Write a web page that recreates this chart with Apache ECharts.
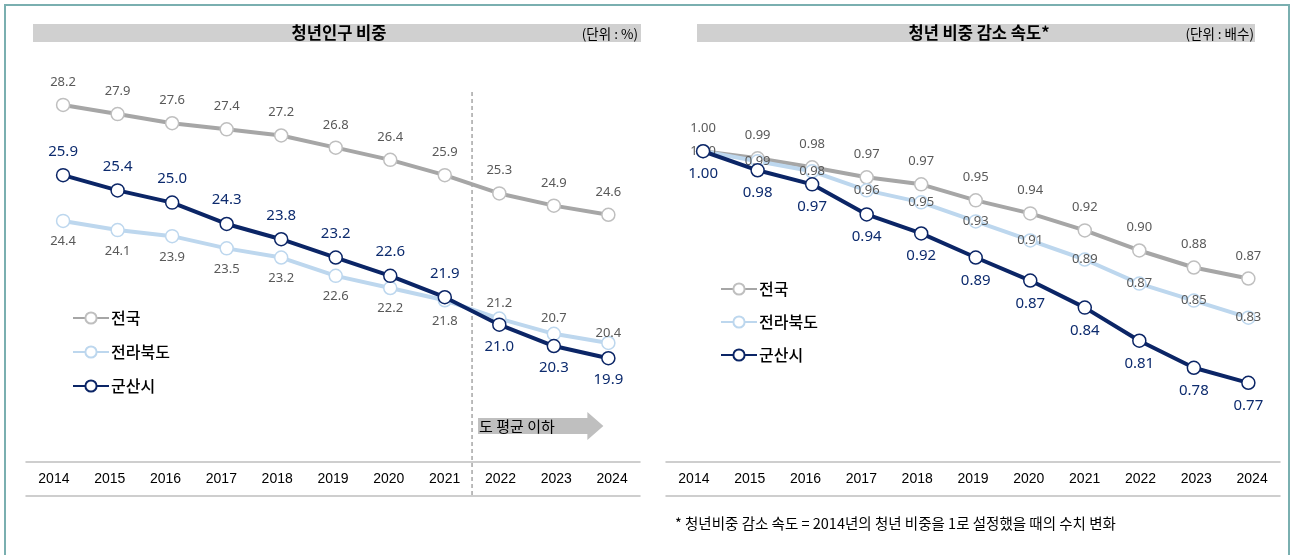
<!DOCTYPE html>
<html><head><meta charset="utf-8">
<script src="https://cdn.jsdelivr.net/npm/echarts@6/dist/echarts.min.js"></script>
<style>html,body{margin:0;padding:0;background:#fff}#c{width:1292px;height:555px}</style>
</head><body><div id="c"></div>
<script>
const years = ['2014','2015','2016','2017','2018','2019','2020','2021','2022','2023','2024'];
const names = ['전국','전라북도','군산시'];
const shareNation  = [28.2,27.9,27.6,27.4,27.2,26.8,26.4,25.9,25.3,24.9,24.6];
const shareJeonbuk = [24.4,24.1,23.9,23.5,23.2,22.6,22.2,21.8,21.2,20.7,20.4];
const shareGunsan  = [25.9,25.4,25.0,24.3,23.8,23.2,22.6,21.9,21.0,20.3,19.9];
// speed values estimated from point positions; labels show them rounded to 2 decimals
const speedNation  = [1.000,0.993,0.984,0.974,0.967,0.951,0.938,0.921,0.901,0.884,0.873];
const speedJeonbuk = [1.000,0.990,0.980,0.961,0.949,0.930,0.911,0.892,0.868,0.851,0.834];
const speedGunsan  = [1.000,0.981,0.967,0.937,0.918,0.894,0.871,0.844,0.811,0.784,0.769];
const leftTitle = '청년인구 비중', leftUnit = '(단위 : %)';
const rightTitle = '청년 비중 감소 속도*', rightUnit = '(단위 : 배수)';
const arrowText = '도 평균 이하';
const footnote = '* 청년비중 감소 속도 = 2014년의 청년 비중을 1로 설정했을 때의 수치 변화';
const belowFromIndex = 8; // 2022 onward: below province average

const KR = '"Noto Sans CJK KR", "Noto Sans", sans-serif';
const NUM = '"Noto Sans", "Noto Sans CJK KR", sans-serif';
const C_GRAY = '#a6a6a6', C_LB = '#bdd7ee', C_NAVY = '#0b2566';
const colors = [C_GRAY, C_LB, C_NAVY];
const mBorder = ['#bfbfbf', '#bdd7ee', '#0b2566'];

const chart = echarts.init(document.getElementById('c'), null, {renderer: 'canvas'});

const grayLbl = {show: true, color: '#595959', fontSize: 13, fontFamily: NUM};
const navyLbl = {show: true, color: '#0d2b6e', fontSize: 15, fontWeight: 'normal', fontFamily: NUM};

function mk(name, vals, k, xi, yi, labelFn, dec, z) {
  return {
    type: 'line', name, xAxisIndex: xi, yAxisIndex: yi, z,
    symbol: 'circle', symbolSize: 13,
    lineStyle: {color: colors[k], width: 4},
    itemStyle: {color: '#fff', borderColor: mBorder[k], borderWidth: 1.5},
    emphasis: {disabled: true},
    animation: false,
    data: vals.map((v, i) => ({value: [i, v], label: labelFn(i)})),
    label: {formatter: p => p.value[1].toFixed(dec)}
  };
}

const L = {
  nationTop: i => Object.assign({}, grayLbl, {position: 'top', distance: 9}),
  jeonbukLeft: i => Object.assign({}, grayLbl, i < belowFromIndex
      ? {position: 'bottom', distance: 7}
      : {position: 'top', distance: i === years.length - 1 ? -4 : 2}),
  gunsanLeft: i => Object.assign({}, navyLbl, i < belowFromIndex
      ? {position: 'top', distance: 9} : {position: 'bottom', distance: 7}),
  jeonbukInside: i => Object.assign({}, grayLbl, {position: 'inside'}),
  gunsanBottom: i => Object.assign({}, navyLbl, {position: 'bottom', distance: 8})
};

const catAxis = (gi, withLabels, offset) => ({
  type: 'category', gridIndex: gi, data: years, position: 'bottom', offset: offset || 0,
  axisLine: {show: true, lineStyle: {color: '#bfbfbf', width: 1.5}},
  axisTick: {show: false},
  axisLabel: {show: withLabels, color: '#000', fontSize: 14, margin: 10, fontFamily: '"Liberation Sans", Arial, sans-serif'},
  splitLine: {show: false}
});
const valX = gi => ({type: 'value', gridIndex: gi, min: -0.68, max: 10.58, show: false});

const legendCommon = {
  orient: 'vertical', itemWidth: 36, itemHeight: 14, padding: 0, data: names,
  textStyle: {color: '#000', fontSize: 16, fontWeight: 500, fontFamily: KR, padding: [0,0,0,-3]},
  selectedMode: false
};

const staticGraphic = [
  {id: 'frame', type: 'rect', silent: true, shape: {x: 5, y: 5, width: 1284, height: 562}, style: {fill: 'none', stroke: '#7aafb0', lineWidth: 2}},
  {id: 'barL', type: 'rect', silent: true, shape: {x: 33, y: 24, width: 608, height: 18}, style: {fill: '#d0d0d0'}},
  {id: 'barR', type: 'rect', silent: true, shape: {x: 697, y: 24, width: 558, height: 18}, style: {fill: '#d0d0d0'}},
  {id: 'tL', type: 'text', silent: true, x: 339, y: 33, style: {text: leftTitle, fill: '#000', font: 'bold 16.5px ' + KR, textAlign: 'center', textVerticalAlign: 'middle'}},
  {id: 'tR', type: 'text', silent: true, x: 979, y: 33, style: {text: rightTitle, fill: '#000', font: 'bold 16.5px ' + KR, textAlign: 'center', textVerticalAlign: 'middle'}},
  {id: 'uL', type: 'text', silent: true, x: 638, y: 34, style: {text: leftUnit, fill: '#000', font: '13.5px ' + KR, textAlign: 'right', textVerticalAlign: 'middle'}},
  {id: 'uR', type: 'text', silent: true, x: 1254, y: 34, style: {text: rightUnit, fill: '#000', font: '13.5px ' + KR, textAlign: 'right', textVerticalAlign: 'middle'}},
  {id: 'fn', type: 'text', silent: true, x: 675, y: 523, style: {text: footnote, fill: '#000', font: '14.5px ' + KR, textAlign: 'left', textVerticalAlign: 'middle'}}
];

const option = {
  animation: false,
  grid: [
    {left: 26, right: 652, top: 50, bottom: 93},
    {left: 666, right: 12, top: 51, bottom: 93}
  ],
  xAxis: [catAxis(0, true), catAxis(0, false, 34), valX(0), catAxis(1, true), catAxis(1, false, 34), valX(1)],
  yAxis: [
    {type: 'value', gridIndex: 0, min: 16.5, max: 30, show: false},
    {type: 'value', gridIndex: 1, min: 0.69, max: 1.10, show: false}
  ],
  legend: [
    Object.assign({left: 72, top: 310, itemGap: 18}, legendCommon),
    Object.assign({left: 720, top: 281, itemGap: 17}, legendCommon)
  ],
  series: [
    mk(names[0], shareNation, 0, 2, 0, L.nationTop, 1, 2),
    mk(names[1], shareJeonbuk, 1, 2, 0, L.jeonbukLeft, 1, 3),
    mk(names[2], shareGunsan, 2, 2, 0, L.gunsanLeft, 1, 4),
    mk(names[0], speedNation, 0, 5, 1, L.nationTop, 2, 2),
    mk(names[1], speedJeonbuk, 1, 5, 1, L.jeonbukInside, 2, 3),
    mk(names[2], speedGunsan, 2, 5, 1, L.gunsanBottom, 2, 4)
  ],
  graphic: {elements: staticGraphic}
};
chart.setOption(option);

// Annotations derived from the axis scale
const x7 = chart.convertToPixel({xAxisIndex: 2}, belowFromIndex - 1);
const x8 = chart.convertToPixel({xAxisIndex: 2}, belowFromIndex);
const xEnd = chart.convertToPixel({xAxisIndex: 2}, years.length - 1);
const lx = (x7 + x8) / 2;
const ax0 = lx + 6, tip = xEnd - 5, headL = tip - 16;
chart.setOption({
  graphic: {elements: staticGraphic.concat([
    {id: 'dash', type: 'line', silent: true, z: 1, shape: {x1: lx, y1: 92, x2: lx, y2: 496}, style: {stroke: '#a6a6a6', lineWidth: 1.5, lineDash: [4, 3]}},
    {id: 'arrow', type: 'polygon', silent: true, shape: {points: [[ax0, 418], [headL, 418], [headL, 412], [tip, 426], [headL, 440], [headL, 434], [ax0, 434]]}, style: {fill: '#bfbfbf'}},
    {id: 'arrowTxt', type: 'text', silent: true, x: ax0 + 1, y: 426, style: {text: arrowText, fill: '#000', font: '15px ' + KR, textAlign: 'left', textVerticalAlign: 'middle'}}
  ])}
});
</script>
</body></html>
